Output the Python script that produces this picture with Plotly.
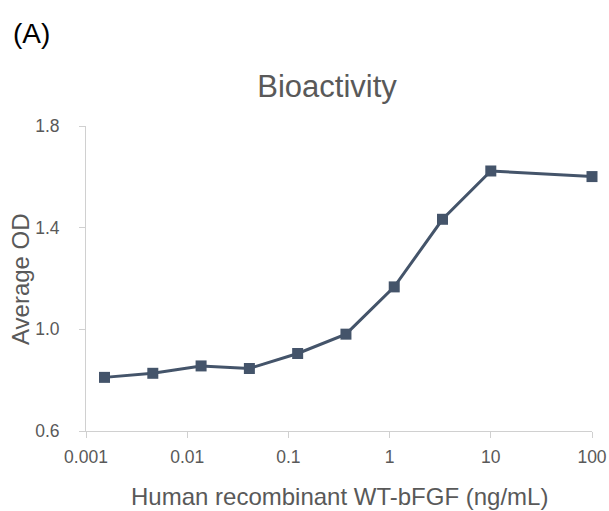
import plotly.graph_objects as go

concentration = [10/3**8, 10/3**7, 10/3**6, 10/3**5, 10/3**4, 10/3**3, 10/3**2, 10/3, 10, 100]
average_od = [0.811, 0.827, 0.856, 0.846, 0.905, 0.981, 1.167, 1.433, 1.623, 1.601]
x_ticks = [0.001, 0.01, 0.1, 1, 10, 100]
x_tick_labels = ["0.001", "0.01", "0.1", "1", "10", "100"]
y_ticks = [0.6, 1.0, 1.4, 1.8]
y_tick_labels = ["0.6", "1.0", "1.4", "1.8"]

line_color = "#44546a"
text_color = "#595959"
axis_color = "#d0d0d0"
font_family = "Liberation Sans, Arial, sans-serif"

W, H = 609, 511
L, R, T, B = 86, 17, 126, 80
PW, PH = W - L - R, H - T - B

def px(x):
    return (x - L) / PW

def py(y):
    return 1 - (y - T) / PH

fig = go.Figure()
fig.add_trace(go.Scatter(
    x=concentration, y=average_od, mode="lines+markers",
    line=dict(color=line_color, width=3),
    marker=dict(symbol="square", size=11, color=line_color),
    showlegend=False, cliponaxis=False,
))

fig.update_layout(
    width=W, height=H,
    margin=dict(l=L, r=R, t=T, b=B, autoexpand=False),
    paper_bgcolor="white", plot_bgcolor="white",
    font=dict(family=font_family, color=text_color, size=17.5),
    title=dict(text="Bioactivity", x=327/W, xanchor="center", y=1-86/H, yanchor="middle",
               font=dict(size=31, color=text_color)),
    xaxis=dict(
        type="log", range=[-3, 2], tickvals=x_ticks, ticktext=x_tick_labels,
        showgrid=False, showline=True, linecolor=axis_color, linewidth=1,
        ticks="outside", ticklen=6, tickcolor=axis_color, ticklabelstandoff=4,
        tickfont=dict(size=17.5, color=text_color),
        zeroline=False, automargin=False,
    ),
    yaxis=dict(
        range=[0.6, 1.8], tickvals=y_ticks, ticktext=y_tick_labels,
        showgrid=False, showline=True, linecolor=axis_color, linewidth=1,
        ticks="outside", ticklen=6, tickcolor=axis_color, ticklabelstandoff=16,
        tickfont=dict(size=17.5, color=text_color),
        zeroline=False, automargin=False,
    ),
)

fig.add_annotation(text="Human recombinant WT-bFGF (ng/mL)", xref="paper", yref="paper",
                   x=px(339.5), y=py(496), xanchor="center", yanchor="middle", showarrow=False,
                   font=dict(size=24, color=text_color, family=font_family))
fig.add_annotation(text="Average OD", xref="paper", yref="paper", textangle=-90,
                   x=px(20), y=py(279), xanchor="center", yanchor="middle", showarrow=False,
                   font=dict(size=24, color=text_color, family=font_family))
fig.add_annotation(text="(A)", xref="paper", yref="paper", x=px(11), y=py(34),
                   xanchor="left", yanchor="middle", showarrow=False,
                   font=dict(size=28, color="black", family=font_family))

fig.write_html("out.html", config={"displayModeBar": False},
               post_script="document.body.style.margin='0px';document.body.style.overflow='hidden';")
